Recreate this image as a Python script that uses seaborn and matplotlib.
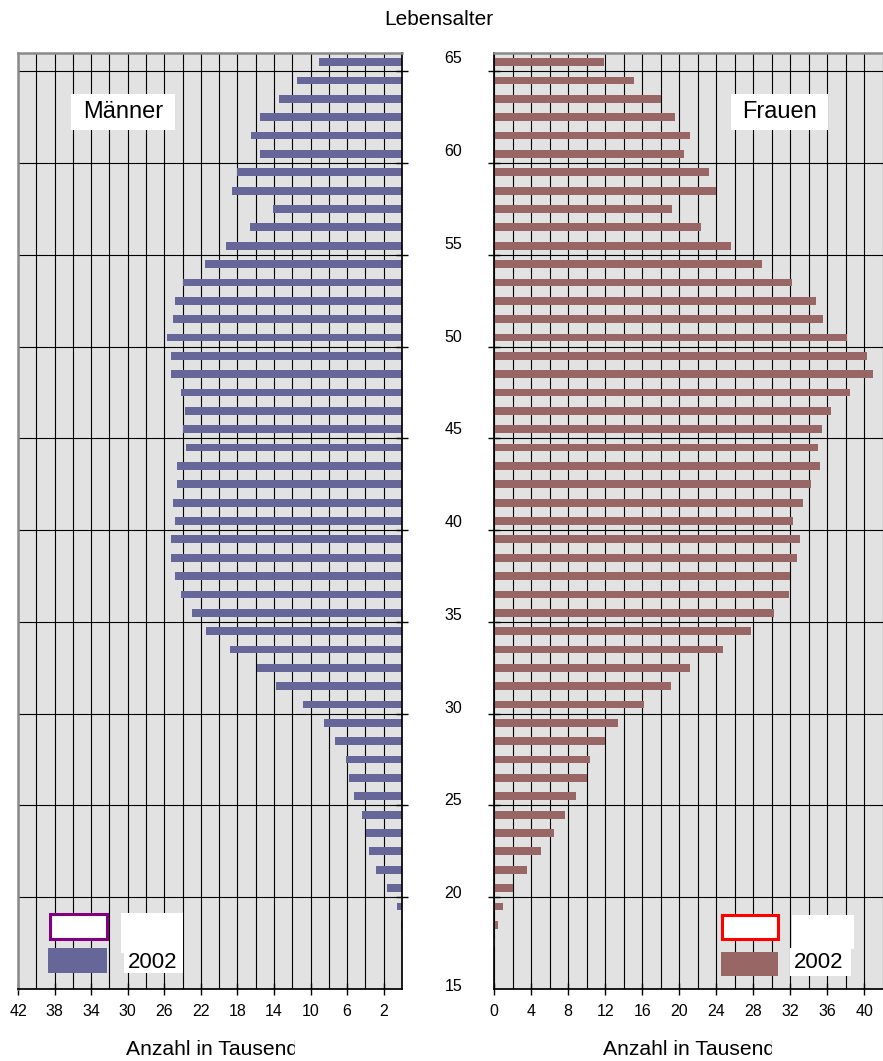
import numpy as np
import pandas as pd
import matplotlib.pyplot as plt
import seaborn as sns
from matplotlib.patches import Rectangle

# Altersjahre (oben 65, unten 15)
alter = list(range(65, 14, -1))

# Anzahl in Tausend, Jahr 2002
maenner = [9.1, 11.5, 13.5, 15.5, 16.5, 15.5, 18.0, 18.6, 14.1, 16.6,
           19.3, 21.5, 24.0, 24.8, 25.0, 25.7, 25.3, 25.3, 24.2, 23.7,
           24.0, 23.6, 24.6, 24.6, 25.0, 24.8, 25.3, 25.3, 24.8, 24.2,
           23.0, 21.4, 18.8, 15.9, 13.8, 10.8, 8.5, 7.3, 6.1, 5.8,
           5.2, 4.4, 3.9, 3.6, 2.8, 1.6, 0.55, 0.1, 0, 0, 0]
frauen = [11.9, 15.1, 18.0, 19.5, 21.2, 20.5, 23.2, 24.0, 19.2, 22.4,
          25.6, 28.9, 32.2, 34.8, 35.5, 38.1, 40.3, 40.9, 38.4, 36.4,
          35.4, 35.0, 35.2, 34.2, 33.4, 32.3, 33.0, 32.7, 32.0, 31.8,
          30.2, 27.7, 24.7, 21.2, 19.1, 16.2, 13.4, 12.0, 10.4, 10.0,
          8.9, 7.7, 6.5, 5.1, 3.6, 2.1, 0.97, 0.4, 0.15, 0, 0]

ticks_links = [42, 38, 34, 30, 26, 22, 18, 14, 10, 6, 2]
ticks_rechts = [0, 4, 8, 12, 16, 20, 24, 28, 32, 36, 40]
alter_labels = [15, 20, 25, 30, 35, 40, 45, 50, 55, 60, 65]

df = pd.DataFrame({"alter": alter, "maenner": maenner, "frauen": frauen})

sns.set_theme(style="ticks")
plt.rcParams["font.family"] = ["Liberation Sans", "DejaVu Sans"]
plt.rcParams["text.color"] = "black"
plt.rcParams["xtick.color"] = "black"
plt.rcParams["ytick.color"] = "black"
plt.rcParams["xtick.labelcolor"] = "black"
plt.rcParams["ytick.labelcolor"] = "black"

W, H = 883, 1061
fig = plt.figure(figsize=(W / 100, H / 100), dpi=100)


def fx(px):
    return px / W


def fy(py):
    return 1 - py / H


top, bottom = 53, 989
ax_l = fig.add_axes([fx(18), fy(bottom), fx(402 - 18), (bottom - top) / H])
ax_r = fig.add_axes([fx(494), fy(bottom), fx(W - 494), (bottom - top) / H])

sns.barplot(data=df, x="maenner", y="alter", orient="y", native_scale=True,
            width=0.42, color="#666699", saturation=1, errorbar=None,
            linewidth=0, ax=ax_l)
sns.barplot(data=df, x="frauen", y="alter", orient="y", native_scale=True,
            width=0.42, color="#996666", saturation=1, errorbar=None,
            linewidth=0, ax=ax_r)

ax_l.set_xlim(42, 0)
ax_r.set_xlim(0, (W - 494) / 9.32)

for ax in (ax_l, ax_r):
    ax.set_facecolor("#e2e2e2")
    ax.set_axisbelow(True)
    ax.set_ylim(14.5, 65.5)
    ax.set_xlabel("")
    ax.set_ylabel("")
    ax.set_xticks(np.arange(0, 43, 2), minor=True)
    ax.set_yticks(np.arange(19.5, 65, 5))
    # Beschriftungen leicht gespreizt wie im Original
    ax.set_yticks(np.linspace(14.73, 65.26, len(alter_labels)), minor=True)
    ax.grid(True, which="both", axis="x", color="black", lw=0.8)
    ax.grid(True, which="major", axis="y", color="black", lw=0.8)
    ax.tick_params(axis="both", which="major", direction="inout", length=8,
                   width=1, color="black", labelsize=11.5)
    ax.tick_params(axis="x", which="minor", length=0)
    ax.tick_params(axis="y", which="minor", length=0)
    ax.tick_params(axis="x", pad=7)
    ax.spines["top"].set_color("#8a8a8a")
    ax.spines["top"].set_linewidth(1.8)
    ax.spines["bottom"].set_color("black")

ax_l.set_xticks(ticks_links)
ax_l.set_xticklabels([str(t) for t in ticks_links])
ax_r.set_xticks(ticks_rechts)
ax_r.set_xticklabels([str(t) for t in ticks_rechts])

# linke Seite: Achse rechts, keine Beschriftung
ax_l.yaxis.tick_right()
ax_l.set_yticklabels([])
ax_l.set_yticklabels([], minor=True)
ax_l.spines["left"].set_color("#8a8a8a")
ax_l.spines["left"].set_linewidth(1.8)
ax_l.spines["right"].set_color("black")

# rechte Seite: Altersangaben links
ax_r.set_yticklabels([])
ax_r.set_yticklabels([str(a) for a in alter_labels], minor=True)
ax_r.tick_params(axis="y", which="minor", pad=23, labelsize=11.5)
ax_r.spines["left"].set_color("black")
ax_r.spines["right"].set_visible(False)


def px_rect(x0, y0, x1, y1, **kw):
    r = Rectangle((fx(x0), fy(y1)), fx(x1 - x0), (y1 - y0) / H,
                  transform=fig.transFigure, **kw)
    fig.add_artist(r)
    return r


# Titelkästen
px_rect(71, 94, 175, 130, facecolor="white", edgecolor="none")
fig.text(fx(123), fy(112), "Männer", ha="center", va="center", fontsize=17)
px_rect(731, 94, 828, 130, facecolor="white", edgecolor="none")
fig.text(fx(779.5), fy(112), "Frauen", ha="center", va="center", fontsize=17)

# Legenden
px_rect(50, 914, 107, 939, facecolor="white", edgecolor="#800080", lw=2.2)
px_rect(48, 948, 107, 973, facecolor="#666699", edgecolor="none")
px_rect(121, 913, 183, 953, facecolor="white", edgecolor="none")
px_rect(124, 952, 183, 973, facecolor="white", edgecolor="none")
fig.text(fx(153), fy(962), "2002", ha="center", va="center", fontsize=16)

px_rect(722, 915, 778, 939, facecolor="white", edgecolor="red", lw=2.2)
px_rect(721, 952, 778, 976, facecolor="#996666", edgecolor="none")
px_rect(792, 915, 854, 949, facecolor="white", edgecolor="none")
px_rect(790, 948, 851, 976, facecolor="white", edgecolor="none")
fig.text(fx(819), fy(963), "2002", ha="center", va="center", fontsize=16)

# Achsentitel (im Original rechts abgeschnitten)
fig.text(fx(439), fy(25), "Lebensalter", ha="center", va="baseline", fontsize=15)
for x0, xclip in ((126.5, 295), (603, 772)):
    fig.text(fx(x0), fy(1055), "Anzahl in Tausend", ha="left",
             va="baseline", fontsize=15.2)
    px_rect(xclip, 1030, xclip + 20, 1061, facecolor="white",
            edgecolor="none", zorder=10)

fig.savefig("out.png", dpi=100)
